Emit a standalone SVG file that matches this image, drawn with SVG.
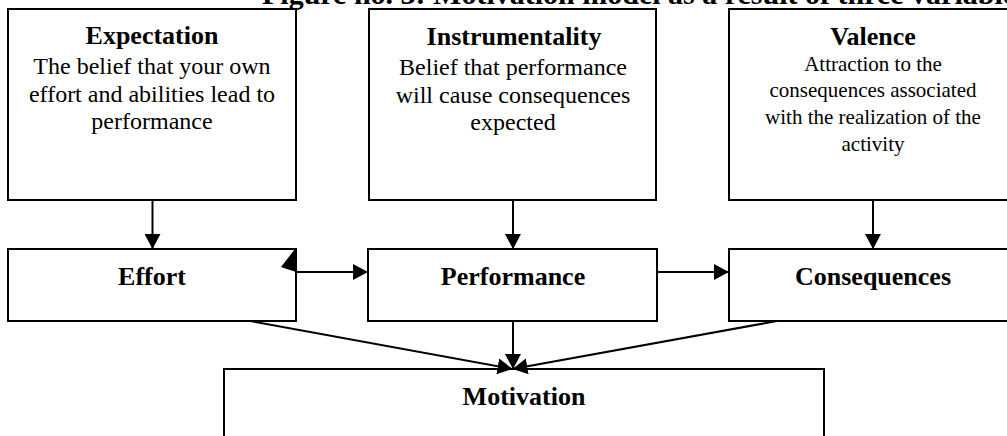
<svg xmlns="http://www.w3.org/2000/svg" width="1007" height="436" viewBox="0 0 1007 436">
<style>
.box{fill:#fff;stroke:#000;stroke-width:2}
.h{font-family:"Liberation Serif","Times New Roman",serif;font-weight:bold;font-size:26px;text-anchor:middle;fill:#000}
.t{font-family:"Liberation Serif","Times New Roman",serif;font-size:24px;text-anchor:middle;fill:#000}
.s{font-family:"Liberation Serif","Times New Roman",serif;font-size:21px;text-anchor:middle;fill:#000}
.c{fill:none;stroke:#000;stroke-width:2}
</style>
<defs>
<marker id="ah" viewBox="0 0 15 16" refX="15" refY="8" markerWidth="15" markerHeight="16" markerUnits="userSpaceOnUse" orient="auto">
<path d="M0,0 L15,8 L0,16 z" fill="#000"/>
</marker>
</defs>
<rect width="1007" height="436" fill="#fff"/>
<text x="262" y="4" font-family="Liberation Serif, Times New Roman, serif" font-weight="bold" font-size="30">Figure no. 3: Motivation model as a result of three variables</text>
<g id="expectation">
<rect class="box" x="8" y="9" width="288" height="191"/>
<text class="h" x="152" y="44">Expectation</text>
<text class="t" x="152" y="74">The belief that your own</text>
<text class="t" x="152" y="101.5">effort and abilities lead to</text>
<text class="t" x="152" y="129">performance</text>
</g>
<g id="instrumentality">
<rect class="box" x="369" y="9" width="287" height="191"/>
<text class="h" x="514" y="45">Instrumentality</text>
<text class="t" x="513" y="75">Belief that performance</text>
<text class="t" x="513" y="102.5">will cause consequences</text>
<text class="t" x="513" y="130">expected</text>
</g>
<g id="valence">
<rect class="box" x="729" y="9" width="290" height="191"/>
<text class="h" x="873" y="45">Valence</text>
<text class="s" x="873" y="70.5">Attraction to the</text>
<text class="s" x="873" y="97.3">consequences associated</text>
<text class="s" x="873" y="124">with the realization of the</text>
<text class="s" x="873" y="150.5">activity</text>
</g>
<g id="effort">
<rect class="box" x="8" y="249" width="288" height="72"/>
<text class="h" x="152" y="285">Effort</text>
</g>
<g id="performance">
<rect class="box" x="368" y="249" width="289" height="72"/>
<text class="h" x="513" y="285">Performance</text>
</g>
<g id="consequences">
<rect class="box" x="729" y="249" width="290" height="72"/>
<text class="h" x="873" y="285">Consequences</text>
</g>
<g id="motivation">
<rect class="box" x="224" y="369" width="600" height="100"/>
<text class="h" x="524" y="405">Motivation</text>
</g>
<g id="connectors">
<path class="c" d="M152.5,200 V249" marker-end="url(#ah)"/>
<path class="c" d="M513,200 V249" marker-end="url(#ah)"/>
<path class="c" d="M873,200 V249" marker-end="url(#ah)"/>
<path class="c" d="M296,272 H368" marker-end="url(#ah)"/>
<path class="c" d="M657,272 H729" marker-end="url(#ah)"/>
<path class="c" d="M513,321 V369" marker-end="url(#ah)"/>
<path class="c" d="M250,321 L512.5,369" marker-end="url(#ah)"/>
<path class="c" d="M777,321 L512.5,369" marker-end="url(#ah)"/>
<polygon points="281,267 295,249 296,272" fill="#000"/>
</g>
</svg>
